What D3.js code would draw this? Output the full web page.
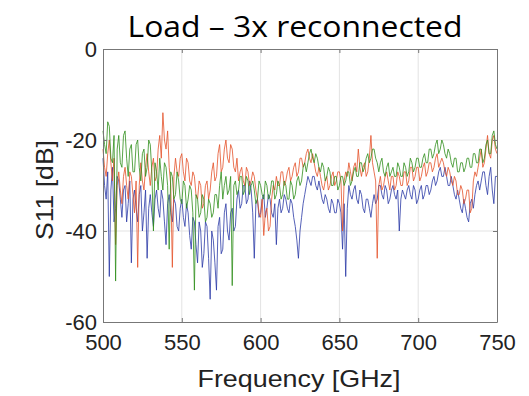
<!doctype html>
<html lang="en">
<head>
  <meta charset="utf-8">
  <title>Load - 3x reconnected</title>
  <style>
  body { margin: 0; background: #fff; }
  .grid line { stroke: #e3e3e3; stroke-width: 1; }
  .axis path, .axis line { stroke: #777; }
  .axis text { font-family: "Liberation Sans", Arial, sans-serif; font-size: 22px; fill: #222; }
  .trace { fill: none; stroke-width: 1; stroke-opacity: 0.8; stroke-linejoin: round; }
  </style>
</head>
<body>
  <div id="chart"></div>
  <script src="https://cdn.jsdelivr.net/npm/d3@7"></script>
  <script>
    // frequency grid, 1 GHz steps from 500 to 750
    var freq = d3.range(500, 751, 1);

    var s11Blue = [
      -24, -30, -33, -27, -50, -31, -26, -38, -35, -28,
      -29, -33, -37, -31, -30, -38, -34, -29, -47, -33,
      -31, -35, -38, -32, -30, -40, -36, -31, -46, -35,
      -32, -36, -39, -33, -31, -35, -37, -31, -33, -38,
      -43, -34, -32, -36, -38, -33, -34, -39, -40, -35,
      -33, -37, -39, -34, -36, -41, -44, -37, -38, -43,
      -47, -38, -40, -48, -45, -38, -39, -46, -55, -40,
      -42, -47, -53, -39, -37, -45, -44, -36, -34, -40,
      -42, -36, -35, -40, -39, -33, -31, -35, -34, -30,
      -30, -34, -33, -29, -31, -36, -46, -34, -33, -37,
      -36, -33, -32, -37, -35, -32, -33, -36, -37, -34,
      -43, -35, -33, -36, -35, -32, -33, -35, -36, -33,
      -34, -37, -39, -42, -46, -40, -37, -34, -32, -30,
      -28, -29, -30, -28, -28, -30, -31, -29, -31, -33,
      -34, -32, -33, -35, -36, -33, -34, -36, -36, -33,
      -34, -36, -44, -34, -50, -35, -30, -32, -33, -31,
      -30, -33, -34, -31, -32, -35, -36, -33, -33, -35,
      -37, -34, -32, -34, -33, -30, -30, -32, -33, -30,
      -31, -34, -33, -31, -30, -32, -33, -31, -40, -33,
      -31, -32, -33, -31, -30, -32, -33, -30, -31, -34,
      -33, -31, -30, -33, -32, -30, -30, -32, -31, -29,
      -28, -30, -29, -27, -26, -28, -28, -26, -28, -30,
      -30, -28, -30, -32, -33, -31, -33, -35, -36, -33,
      -35, -37, -38, -34, -33, -35, -32, -30, -29, -31,
      -29, -27, -27, -30, -32, -28, -26, -31, -34, -28,
      -28
    ];

    var s11Red = [
      -22, -26, -28, -23, -20, -25, -29, -24, -43, -30,
      -27, -31, -34, -28, -26, -30, -33, -27, -28, -32,
      -36, -29, -48, -30, -25, -29, -31, -26, -23, -27,
      -30, -26, -24, -29, -28, -22, -19, -24, -14, -20,
      -22, -18, -26, -30, -48, -28, -24, -27, -28, -24,
      -23, -27, -29, -24, -25, -29, -30, -27, -28, -32,
      -33, -29, -30, -35, -34, -30, -29, -33, -31, -27,
      -25, -29, -28, -23, -21, -27, -26, -22, -20, -24,
      -25, -21, -22, -26, -27, -24, -29, -27, -26, -29,
      -30, -26, -27, -30, -29, -27, -28, -31, -33, -36,
      -37, -33, -41, -36, -35, -40, -39, -33, -30, -31,
      -28, -30, -30, -27, -27, -30, -29, -27, -26, -29,
      -28, -26, -25, -28, -27, -24, -24, -26, -25, -23,
      -22, -24, -25, -23, -25, -27, -28, -26, -28, -30,
      -31, -29, -28, -31, -30, -28, -27, -30, -29, -27,
      -27, -29, -40, -29, -27, -28, -25, -27, -29, -26,
      -25, -27, -22, -26, -28, -26, -25, -28, -27, -24,
      -19, -25, -27, -29, -46, -30, -28, -31, -30, -28,
      -27, -29, -31, -28, -28, -31, -30, -27, -28, -30,
      -30, -27, -27, -30, -29, -26, -26, -29, -28, -26,
      -26, -29, -28, -26, -25, -28, -27, -25, -25, -27,
      -26, -24, -23, -26, -25, -24, -25, -27, -28, -26,
      -27, -29, -30, -28, -29, -32, -32, -30, -31, -34,
      -33, -31, -31, -36, -35, -29, -27, -28, -26, -24,
      -22, -26, -25, -22, -19, -23, -24, -20, -19, -22,
      -23
    ];

    var s11Green = [
      -18, -21, -23, -16, -17, -24, -25, -19, -51, -22,
      -19, -25, -26, -19, -18, -24, -28, -22, -21, -27,
      -27, -21, -20, -26, -29, -23, -22, -28, -26, -20,
      -21, -27, -40, -25, -27, -31, -24, -28, -31, -25,
      -26, -30, -44, -27, -28, -33, -32, -27, -29, -33,
      -34, -29, -30, -35, -33, -30, -31, -36, -53, -32,
      -33, -37, -36, -32, -33, -38, -37, -33, -34, -37,
      -36, -32, -32, -35, -30, -27, -33, -30, -28, -32,
      -31, -28, -52, -30, -29, -32, -31, -28, -28, -32,
      -31, -28, -29, -32, -30, -29, -31, -34, -33, -29,
      -30, -32, -33, -29, -30, -33, -32, -29, -29, -33,
      -32, -29, -30, -33, -32, -29, -30, -33, -33, -29,
      -30, -33, -32, -29, -28, -30, -29, -26, -25, -27,
      -25, -23, -22, -24, -25, -23, -24, -26, -27, -25,
      -26, -29, -28, -26, -27, -30, -30, -28, -28, -31,
      -30, -28, -28, -30, -29, -27, -27, -30, -29, -27,
      -26, -28, -28, -25, -25, -27, -26, -24, -23, -25,
      -24, -22, -22, -24, -25, -27, -25, -24, -27, -28,
      -26, -25, -28, -27, -26, -28, -28, -25, -26, -28,
      -28, -25, -26, -28, -27, -24, -25, -27, -26, -24,
      -24, -26, -26, -24, -23, -25, -25, -22, -22, -24,
      -23, -21, -20, -23, -22, -20, -21, -23, -24, -22,
      -23, -25, -26, -24, -24, -27, -27, -25, -25, -27,
      -26, -24, -24, -26, -26, -23, -23, -25, -25, -22,
      -22, -25, -24, -21, -20, -23, -23, -19, -18, -21,
      -22
    ];

    var xTicks = [500, 550, 600, 650, 700, 750];
    var yTicks = [-60, -40, -20, 0];

    (function(){

      var width = 529;
      var height = 396;
      var left = 103, right = 497, top = 49, bottom = 322;

      var x = d3.scaleLinear().domain([500, 750]).range([left, right]);
      var y = d3.scaleLinear().domain([-60, 0]).range([bottom, top]);

      var svg = d3.select("#chart")
          .append("svg")
          .attr("width", width)
          .attr("height", height);

      // grid
      var grid = svg.append("g").attr("class", "grid");
      grid.selectAll(".gx").data(xTicks.slice(1, -1)).enter()
        .append("line")
        .attr("x1", function(d) { return x(d); })
        .attr("x2", function(d) { return x(d); })
        .attr("y1", top).attr("y2", bottom);
      grid.selectAll(".gy").data(yTicks.slice(1, -1)).enter()
        .append("line")
        .attr("x1", left).attr("x2", right)
        .attr("y1", function(d) { return y(d); })
        .attr("y2", function(d) { return y(d); });

      var series = [
        {values: s11Blue, color: "#2a3aa6"},
        {values: s11Red, color: "#e5532a"},
        {values: s11Green, color: "#2f8f1c"}
      ];

      var line = d3.line()
        .x(function(d, i) { return x(freq[i]); })
        .y(function(d) { return y(d); });

      svg.append("g").selectAll("path")
        .data(series).enter()
        .append("path")
        .attr("class", "trace")
        .attr("stroke", function(d) { return d.color; })
        .attr("d", function(d) { return line(d.values); });

      // plain hyphen for negatives, like the original
      var fmt = function(d) { return String(d); };

      // axes, ticks pointing inward like matlab
      svg.append("g").attr("class", "axis")
        .attr("transform", "translate(0," + bottom + ")")
        .call(d3.axisBottom(x).tickValues(xTicks).tickSize(-4).tickPadding(12).tickSizeOuter(0).tickFormat(fmt));
      svg.append("g").attr("class", "axis")
        .attr("transform", "translate(0," + top + ")")
        .call(d3.axisTop(x).tickValues(xTicks).tickSize(-4).tickFormat("").tickSizeOuter(0));
      svg.append("g").attr("class", "axis")
        .attr("transform", "translate(" + left + ",0)")
        .call(d3.axisLeft(y).tickValues(yTicks).tickSize(-4).tickPadding(6).tickSizeOuter(0).tickFormat(fmt));
      svg.append("g").attr("class", "axis")
        .attr("transform", "translate(" + right + ",0)")
        .call(d3.axisRight(y).tickValues(yTicks).tickSize(-4).tickFormat("").tickSizeOuter(0));

      // labels
      svg.append("text")
        .attr("x", 299).attr("y", 387)
        .attr("text-anchor", "middle")
        .attr("textLength", 203).attr("lengthAdjust", "spacingAndGlyphs")
        .style("font-family", "Liberation Sans, Arial, sans-serif")
        .style("font-size", "24px").style("fill", "#222")
        .text("Frequency [GHz]");

      svg.append("text")
        .attr("transform", "translate(53,190) rotate(-90)")
        .attr("text-anchor", "middle")
        .attr("textLength", 100).attr("lengthAdjust", "spacingAndGlyphs")
        .style("font-family", "Liberation Sans, Arial, sans-serif")
        .style("font-size", "24px").style("fill", "#222")
        .text("S11 [dB]");

      svg.append("text")
        .attr("x", 295).attr("y", 37)
        .attr("text-anchor", "middle")
        .attr("textLength", 335).attr("lengthAdjust", "spacingAndGlyphs")
        .style("font-family", "'Open Sans', Lato, sans-serif")
        .style("font-size", "30px").style("font-weight", "400").style("fill", "#000")
        .text("Load \u2013 3x reconnected");

    })();
  </script>
</body>
</html>
